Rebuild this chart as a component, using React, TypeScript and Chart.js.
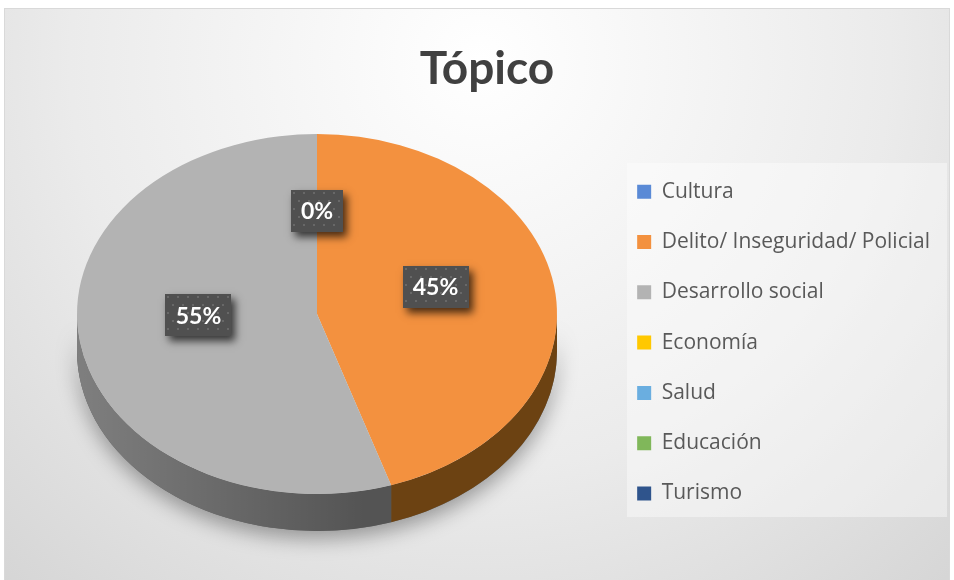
import React, { useEffect, useRef } from 'react';
import { Chart, registerables } from 'chart.js';

Chart.register(...registerables);

const TITLE = 'Tópico';
const categories = [
  'Cultura',
  'Delito/ Inseguridad/ Policial',
  'Desarrollo social',
  'Economía',
  'Salud',
  'Educación',
  'Turismo',
];
const values = [0, 45, 55, 0, 0, 0, 0];
const showValueLabel = [true, true, true, false, false, false, false];

const topColors = ['#5A8AD6', '#F3913F', '#B3B3B3', '#FFC800', '#6AAEE0', '#80B75A', '#2F548C'];
const sideColors = ['#2C4D80', '#6C4212', '#545454', '#7A5E00', '#325D80', '#3F5F2A', '#1A3050'];

const W = 954;
const H = 580;
const PIE = { cx: 317, cy: 314, rx: 240, ry: 180, depth: 37 };
const LABEL_FRACTION = 0.5;
const LABEL_SHIFT_Y = -13;
const FONT = '"Open Sans", Lato, sans-serif';
const TITLE_FONT = 'Lato, "Open Sans", sans-serif';

function frontSegments(s: number, e: number): [number, number][] {
  const out: [number, number][] = [];
  for (const k of [-2 * Math.PI, 0, 2 * Math.PI]) {
    const a = Math.max(s, k);
    const b = Math.min(e, k + Math.PI);
    if (b > a) out.push([a - k, b - k]);
  }
  return out;
}

function bandPath(ctx: CanvasRenderingContext2D, a1: number, a2: number) {
  const { cx, cy, rx, ry, depth } = PIE;
  ctx.beginPath();
  ctx.ellipse(cx, cy, rx, ry, 0, a1, a2, false);
  ctx.ellipse(cx, cy + depth, rx, ry, 0, a2, a1, true);
  ctx.closePath();
}

function drawValueLabel(ctx: CanvasRenderingContext2D, text: string, x: number, y: number) {
  ctx.save();
  ctx.font = `bold 23px ${TITLE_FONT}`;
  const tw = ctx.measureText(text).width;
  const w = Math.round(tw + 20);
  const h = 42;
  const left = Math.round(x - w / 2);
  const top = Math.round(y - h / 2);
  ctx.save();
  ctx.shadowColor = 'rgba(0,0,0,0.7)';
  ctx.shadowBlur = 8;
  ctx.shadowOffsetX = 4;
  ctx.shadowOffsetY = 5;
  ctx.fillStyle = '#505050';
  ctx.fillRect(left, top, w, h);
  ctx.restore();
  ctx.save();
  ctx.beginPath();
  ctx.rect(left, top, w, h);
  ctx.clip();
  ctx.fillStyle = '#686868';
  let row = 0;
  for (let yy = top + 2; yy < top + h; yy += 8, row++) {
    for (let xx = left + 2 + (row % 2) * 5; xx < left + w; xx += 10) {
      ctx.fillRect(xx, yy, 2, 2);
    }
  }
  ctx.restore();
  ctx.fillStyle = '#ffffff';
  ctx.textAlign = 'center';
  ctx.textBaseline = 'middle';
  ctx.fillText(text, x, y + 1);
  ctx.restore();
}

const backgroundPlugin = {
  id: 'excelBackground',
  beforeDraw(chart: any) {
    const ctx: CanvasRenderingContext2D = chart.ctx;
    ctx.save();
    ctx.fillStyle = '#ffffff';
    ctx.fillRect(0, 0, W, H);
    const g = ctx.createRadialGradient(480, 60, 0, 480, 60, 820);
    g.addColorStop(0, '#ffffff');
    g.addColorStop(0.5, '#ebebeb');
    g.addColorStop(1, '#cdcdcd');
    ctx.fillStyle = g;
    ctx.fillRect(4, 8, 946, H - 8);
    ctx.strokeStyle = '#d9d9d9';
    ctx.lineWidth = 1;
    ctx.strokeRect(4.5, 8.5, 945, H);
    ctx.fillStyle = 'rgba(255,255,255,0.4)';
    ctx.fillRect(627, 163, 320, 354);
    ctx.restore();
  },
};

const pie3dPlugin = {
  id: 'pie3d',
  beforeDatasetsDraw(chart: any) {
    const ctx: CanvasRenderingContext2D = chart.ctx;
    const meta = chart.getDatasetMeta(0);
    const arcs = meta.data as any[];
    if (!arcs.length) return;
    const { cx, rx } = PIE;
    ctx.save();
    ctx.shadowColor = 'rgba(0,0,0,0.35)';
    ctx.shadowBlur = 20;
    ctx.shadowOffsetY = 8;
    ctx.fillStyle = '#666666';
    bandPath(ctx, 0, Math.PI);
    ctx.fill();
    ctx.restore();
    ctx.save();
    arcs.forEach((arc: any, i: number) => {
      const p = arc.getProps(['startAngle', 'endAngle'], true);
      if (p.endAngle - p.startAngle <= 0) return;
      frontSegments(p.startAngle, p.endAngle).forEach(([a, b]) => {
        ctx.fillStyle = sideColors[i];
        bandPath(ctx, a, b);
        ctx.fill();
      });
    });
    const lg = ctx.createLinearGradient(cx - rx, 0, cx + rx, 0);
    lg.addColorStop(0, 'rgba(255,255,255,0.25)');
    lg.addColorStop(0.6, 'rgba(255,255,255,0)');
    lg.addColorStop(1, 'rgba(255,255,255,0)');
    ctx.fillStyle = lg;
    bandPath(ctx, 0, Math.PI);
    ctx.fill();
    ctx.restore();
    const a0 = arcs[0];
    const R = a0.outerRadius;
    ctx.save();
    ctx.translate(PIE.cx, PIE.cy);
    ctx.scale(PIE.rx / R, PIE.ry / R);
    ctx.translate(-a0.x, -a0.y);
  },
  afterDatasetsDraw(chart: any) {
    const ctx: CanvasRenderingContext2D = chart.ctx;
    const meta = chart.getDatasetMeta(0);
    const arcs = meta.data as any[];
    if (!arcs.length) return;
    ctx.restore();
    const { cx, cy, rx, ry } = PIE;
    const data = chart.data.datasets[0].data as number[];
    const total = data.reduce((s, v) => s + (v || 0), 0);
    arcs.forEach((arc: any, i: number) => {
      if (!showValueLabel[i]) return;
      const p = arc.getProps(['startAngle', 'endAngle'], true);
      const mid = (p.startAngle + p.endAngle) / 2;
      const x = cx + Math.cos(mid) * rx * LABEL_FRACTION;
      const y = cy + Math.sin(mid) * ry * LABEL_FRACTION + LABEL_SHIFT_Y;
      const pct = Math.round(((data[i] || 0) / total) * 100) + '%';
      drawValueLabel(ctx, pct, x, y);
    });
  },
};

export default function App() {
  const ref = useRef<HTMLCanvasElement | null>(null);
  useEffect(() => {
    if (!ref.current) return;
    const chart = new Chart(ref.current, {
      type: 'pie',
      data: {
        labels: categories,
        datasets: [
          {
            data: values,
            backgroundColor: topColors,
            borderWidth: 0,
          },
        ],
      },
      options: {
        responsive: false,
        animation: false,
        events: [],
        layout: { padding: { top: 0, right: 14, bottom: 22, left: 34 } },
        plugins: {
          tooltip: { enabled: false },
          title: {
            display: true,
            text: TITLE,
            color: '#404040',
            font: { family: TITLE_FONT, size: 46, weight: 'bold' },
            padding: { top: 42, bottom: 30 },
          },
          legend: {
            display: true,
            position: 'right',
            align: 'center',
            fullSize: false,
            labels: {
              boxWidth: 14,
              boxHeight: 14,
              padding: 29.3,
              color: '#595959',
              font: { family: FONT, size: 21 },
            },
          },
        },
      },
      plugins: [backgroundPlugin, pie3dPlugin],
    });
    return () => chart.destroy();
  }, []);
  return (
    <div style={{ position: 'fixed', left: 0, top: 0, width: W, height: H }}>
      <canvas ref={ref} width={W} height={H} style={{ display: 'block', width: W, height: H }} />
    </div>
  );
}
